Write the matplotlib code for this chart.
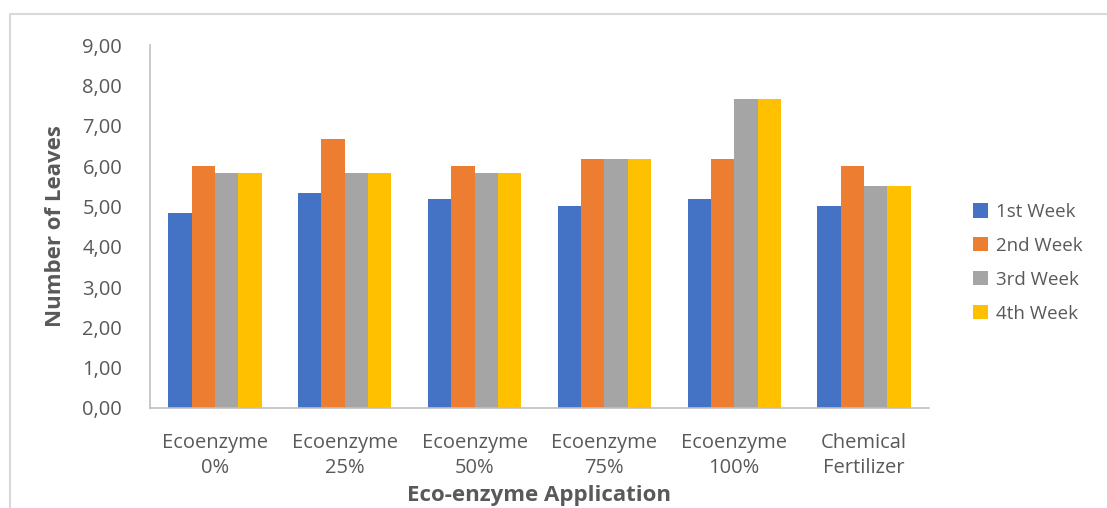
import matplotlib.pyplot as plt
import numpy as np
from matplotlib.lines import Line2D

plt.rcParams['font.family'] = ['Open Sans', 'DejaVu Sans']

# categories and weekly leaf counts
categories = ['Ecoenzyme\n0%', 'Ecoenzyme\n25%', 'Ecoenzyme\n50%', 'Ecoenzyme\n75%',
              'Ecoenzyme\n100%', 'Chemical\nFertilizer']
week1 = [4.83, 5.33, 5.17, 5.00, 5.17, 5.00]
week2 = [6.00, 6.67, 6.00, 6.17, 6.17, 6.00]
week3 = [5.83, 5.83, 5.83, 6.17, 7.67, 5.50]
week4 = [5.83, 5.83, 5.83, 6.17, 7.67, 5.50]
series_names = ['1st Week', '2nd Week', '3rd Week', '4th Week']
colors = ['#4472C4', '#ED7D31', '#A5A5A5', '#FFC000']

text_color = '#595959'

fig = plt.figure(figsize=(11.07, 5.08), dpi=100)
ax = fig.add_axes([150 / 1107, 1 - 408 / 508, (929 - 150) / 1107, (408 - 45) / 508])

x = np.arange(len(categories))
width = 0.18
for i, (vals, name, c) in enumerate(zip([week1, week2, week3, week4], series_names, colors)):
    ax.bar(x + (i - 1.5) * width, vals, width, color=c, label=name)

ax.set_xlim(-0.5, len(categories) - 0.5)
ax.set_ylim(0, 9)
ax.set_yticks(np.arange(0, 10, 1))
ax.set_yticklabels([f'{v:.2f}'.replace('.', ',') for v in range(10)])
ax.set_xticks(x)
ax.set_xticklabels(categories, linespacing=1.35)
ax.tick_params(axis='both', length=0, labelsize=14.5, colors=text_color)
ax.tick_params(axis='x', pad=18)
ax.tick_params(axis='y', pad=20)

for s in ['top', 'right']:
    ax.spines[s].set_visible(False)
for s in ['left', 'bottom']:
    ax.spines[s].set_color('#BFBFBF')
    ax.spines[s].set_linewidth(1.2)

ax.set_ylabel('Number of Leaves', fontsize=16, fontweight='bold', color=text_color, labelpad=12)
fig.text(539 / 1107, 1 - 495 / 508, 'Eco-enzyme Application', fontsize=16,
         fontweight='bold', color=text_color, ha='center', va='center')

leg = ax.legend(loc='center left', bbox_to_anchor=(1.035, 0.40), frameon=False,
                fontsize=13.5, handlelength=0.8, handleheight=0.8, handletextpad=0.4,
                labelspacing=0.85)
for t in leg.get_texts():
    t.set_color(text_color)

# light chart-area border on the left and top
fig.add_artist(Line2D([10 / 1107, 10 / 1107, 1.0], [0.0, 1 - 14 / 508, 1 - 14 / 508],
                      transform=fig.transFigure, color='#D9D9D9', linewidth=1.5))

fig.savefig('out.png', dpi=100)
